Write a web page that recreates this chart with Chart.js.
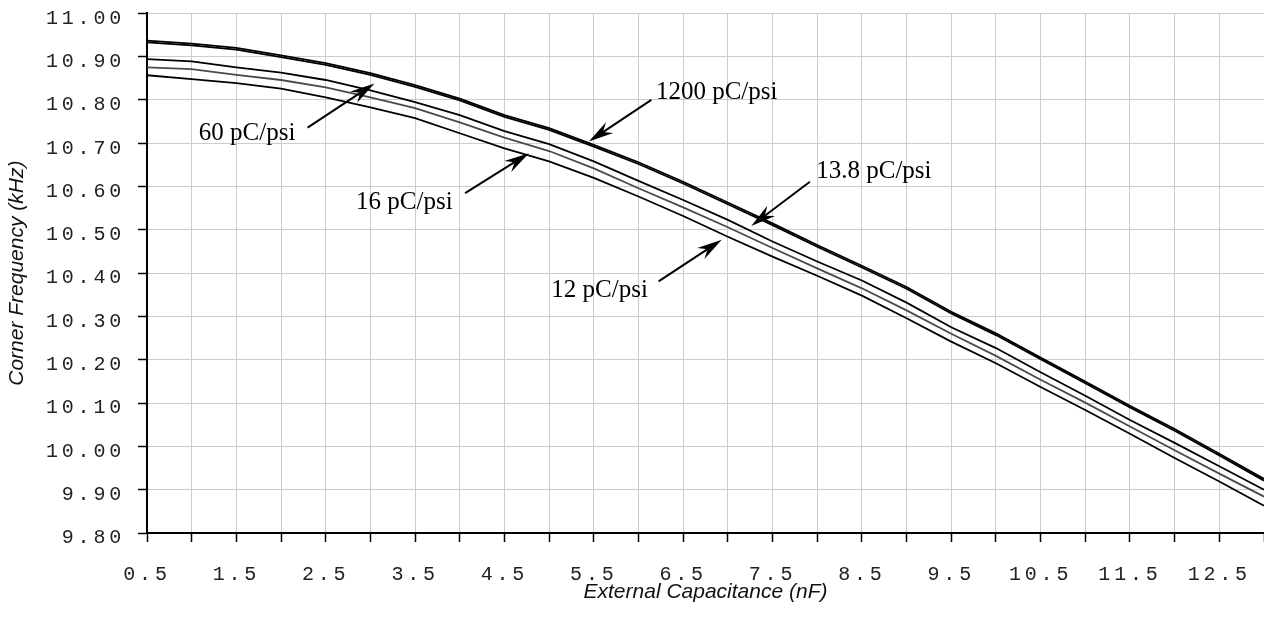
<!DOCTYPE html>
<html><head><meta charset="utf-8">
<script src="https://cdn.jsdelivr.net/npm/chart.js@4"></script>
<style>html,body{margin:0;padding:0;background:#fff;overflow:hidden}</style>
</head><body>
<canvas id="c" width="1264" height="623" style="display:block;width:1264px;height:623px"></canvas>
<script>
// ---- data ----
const capacitanceNF = [0.5,1.0,1.5,2.0,2.5,3.0,3.5,4.0,4.5,5.0,5.5,6.0,6.5,7.0,7.5,8.0,8.5,9.0,9.5,10.0,10.5,11.0,11.5,12.0,12.5,13.0];
const freq1200 = [10.937,10.930,10.920,10.903,10.885,10.862,10.834,10.803,10.765,10.735,10.696,10.656,10.611,10.563,10.515,10.465,10.417,10.368,10.311,10.261,10.205,10.150,10.094,10.040,9.983,9.925];
const freq60   = [10.933,10.926,10.916,10.899,10.881,10.858,10.830,10.799,10.761,10.731,10.692,10.652,10.607,10.559,10.511,10.461,10.413,10.364,10.307,10.257,10.201,10.146,10.090,10.036,9.979,9.921];
const freq16   = [10.894,10.889,10.875,10.863,10.846,10.822,10.795,10.765,10.728,10.698,10.658,10.613,10.569,10.523,10.473,10.427,10.383,10.332,10.275,10.227,10.171,10.117,10.061,10.008,9.954,9.900];
const freq13_8 = [10.875,10.871,10.858,10.846,10.829,10.806,10.781,10.748,10.713,10.682,10.642,10.596,10.552,10.506,10.458,10.411,10.365,10.314,10.260,10.209,10.154,10.101,10.046,9.991,9.937,9.884];
const freq12   = [10.857,10.848,10.839,10.826,10.806,10.783,10.758,10.723,10.688,10.658,10.620,10.577,10.532,10.484,10.438,10.394,10.348,10.296,10.242,10.192,10.137,10.084,10.029,9.973,9.919,9.863];
const seriesNames = ["1200 pC/psi","60 pC/psi","16 pC/psi","13.8 pC/psi","12 pC/psi"];
const xTickValues = [0.5,1.0,1.5,2.0,2.5,3.0,3.5,4.0,4.5,5.0,5.5,6.0,6.5,7.0,7.5,8.0,8.5,9.0,9.5,10.0,10.5,11.0,11.5,12.0,12.5,13.0];
const xTickLabels = ["0.5","","1.5","","2.5","","3.5","","4.5","","5.5","","6.5","","7.5","","8.5","","9.5","","10.5","","11.5","","12.5",""];
const yTickValues = [9.8,9.9,10.0,10.1,10.2,10.3,10.4,10.5,10.6,10.7,10.8,10.9,11.0];
const yTickLabels = ["9.80","9.90","10.00","10.10","10.20","10.30","10.40","10.50","10.60","10.70","10.80","10.90","11.00"];
const xTitle = "External Capacitance (nF)";
const yTitle = "Corner Frequency (kHz)";
// annotation anchors in data units: label, text x/y, arrow start x/y, arrow tip x/y
const annoLabels = ["60 pC/psi","16 pC/psi","1200 pC/psi","13.8 pC/psi","12 pC/psi"];
const annoTextX  = [1.080, 2.840, 6.195, 7.989, 5.025];
const annoTextY  = [10.708,10.547,10.801,10.619,10.346];
const annoFromX  = [2.297, 4.060, 6.144, 7.918, 6.225];
const annoFromY  = [10.736,10.585,10.800,10.611,10.381];
const annoTipX   = [3.045, 4.775, 5.444, 7.262, 6.932];
const annoTipY   = [10.838,10.677,10.704,10.509,10.477];

const seriesValues = [freq1200, freq60, freq16, freq13_8, freq12];
const seriesColors = ["#000000","#000000","#000000","#4a4a4a","#000000"];

const datasets = seriesValues.map((vals, i) => ({
  label: seriesNames[i],
  data: capacitanceNF.map((x, j) => ({x, y: vals[j]})),
  borderColor: seriesColors[i],
  borderWidth: 1.8,
  pointRadius: 0,
  tension: 0,
  fill: false
}));

const spacingPlugin = {
  id: 'tickSpacing',
  afterLayout(chart) {
    ['x','y'].forEach(id => {
      const s = chart.scales[id];
      if (s && !s._spaced) {
        const orig = s.drawLabels;
        s.drawLabels = function(area) {
          const ctx = this.ctx;
          ctx.save();
          ctx.letterSpacing = '3.8px';
          orig.call(this, area);
          ctx.restore();
        };
        s._spaced = true;
      }
    });
  }
};

function drawArrow(ctx, x1, y1, x2, y2) {
  const dx = x2 - x1, dy = y2 - y1, L = Math.hypot(dx, dy);
  const ux = dx / L, uy = dy / L, nx = -uy, ny = ux;
  const headLen = 25, halfW = 6.5, notch = 17;
  const bx = x2 - ux * headLen, by = y2 - uy * headLen;
  const mx = x2 - ux * notch, my = y2 - uy * notch;
  ctx.beginPath(); ctx.moveTo(x1, y1); ctx.lineTo(mx, my); ctx.lineWidth = 2; ctx.stroke();
  ctx.beginPath();
  ctx.moveTo(x2, y2);
  ctx.lineTo(bx + nx * halfW, by + ny * halfW);
  ctx.lineTo(mx, my);
  ctx.lineTo(bx - nx * halfW, by - ny * halfW);
  ctx.closePath(); ctx.fill();
}

const annoPlugin = {
  id: 'annotations',
  afterDatasetsDraw(chart) {
    const {ctx, scales: {x, y}} = chart;
    ctx.save();
    ctx.fillStyle = '#000'; ctx.strokeStyle = '#000';
    ctx.font = '25px "Liberation Serif"';
    ctx.textAlign = 'left'; ctx.textBaseline = 'alphabetic';
    annoLabels.forEach((t, i) => {
      ctx.fillText(t, x.getPixelForValue(annoTextX[i]), y.getPixelForValue(annoTextY[i]));
      drawArrow(ctx, x.getPixelForValue(annoFromX[i]), y.getPixelForValue(annoFromY[i]),
                     x.getPixelForValue(annoTipX[i]), y.getPixelForValue(annoTipY[i]));
    });
    ctx.restore();
  }
};

const tickFont = {family: '"Liberation Mono"', size: 20};
const titleFont = {family: '"Liberation Sans"', size: 21, style: 'italic'};

new Chart(document.getElementById('c'), {
  type: 'line',
  data: {datasets},
  options: {
    responsive: false,
    animation: false,
    devicePixelRatio: 1,
    layout: {padding: {top: 13.3, right: 0, bottom: 0, left: 0}},
    plugins: {legend: {display: false}, tooltip: {enabled: false}},
    scales: {
      x: {
        type: 'linear', min: 0.5, max: 13,
        afterBuildTicks: s => { s.ticks = xTickValues.map(v => ({value: v})); },
        afterFit: s => { s.height = 90; s.paddingLeft = 0; s.paddingRight = 0; },
        ticks: {
          autoSkip: false, maxRotation: 0, minRotation: 0, padding: 21,
          color: '#222', font: tickFont,
          callback: (v, i) => xTickLabels[i]
        },
        grid: {color: '#cccccc', lineWidth: 1, tickLength: 9, tickColor: '#000', tickWidth: 1.5},
        border: {color: '#000', width: 2},
        title: {display: true, text: xTitle, color: '#111', font: titleFont, padding: {top: 0, bottom: 18}}
      },
      y: {
        type: 'linear', min: 9.8, max: 11.0,
        afterBuildTicks: s => { s.ticks = yTickValues.map(v => ({value: v})); },
        afterFit: s => { s.width = 147; s.paddingTop = 0; s.paddingBottom = 0; },
        ticks: {
          autoSkip: false, padding: 13, labelOffset: 5,
          color: '#222', font: tickFont,
          callback: (v, i) => yTickLabels[i]
        },
        grid: {color: '#cccccc', lineWidth: 1, tickLength: 9, tickColor: '#000', tickWidth: 1.5},
        border: {color: '#000', width: 2},
        title: {display: true, text: yTitle, color: '#111', font: titleFont, padding: {top: 5, bottom: 0}}
      }
    }
  },
  plugins: [spacingPlugin, annoPlugin]
});
</script>
</body></html>
